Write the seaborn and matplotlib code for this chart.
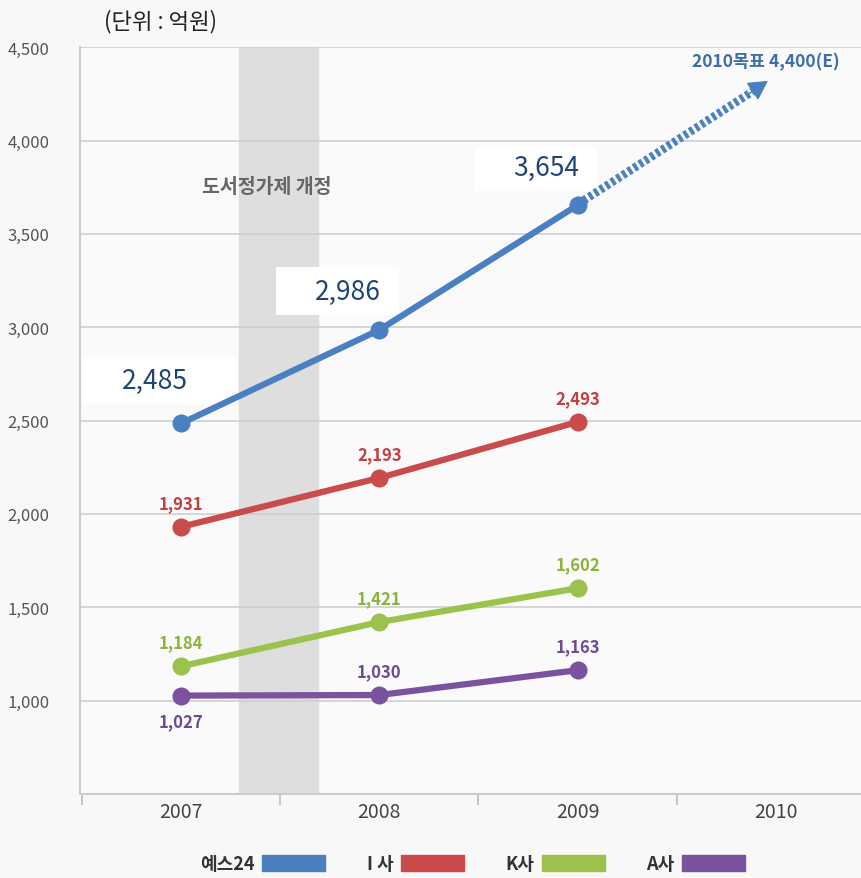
import numpy as np
import pandas as pd
import matplotlib.pyplot as plt
import matplotlib.patches as mpatches
import seaborn as sns

# ---------------------------------------------------------------------------
# data
# ---------------------------------------------------------------------------
years = ["2007", "2008", "2009", "2010"]
yes24 = [2485, 2986, 3654]
i_sa = [1931, 2193, 2493]
k_sa = [1184, 1421, 1602]
a_sa = [1027, 1030, 1163]
target_2010 = 4400

series_names = ["예스24", "I 사", "K사", "A사"]
colors = ["#4a7fc1", "#c94b4b", "#9bc24c", "#7b52a0"]
label_colors = ["#1f4478", "#c0413f", "#8cb33a", "#6e4a94"]

sns.set_theme(style="white")
plt.rcParams["font.family"] = ["Noto Sans CJK KR", "DejaVu Sans"]

df = pd.DataFrame({
    "x": list(range(3)) * 4,
    "value": yes24 + i_sa + k_sa + a_sa,
    "series": sum([[n] * 3 for n in series_names], []),
})

fig = plt.figure(figsize=(8.61, 8.79), dpi=100)
fig.patch.set_facecolor("#f8f8f8")
ax = fig.add_axes([0.093, 0.0956, 0.907, 0.8495])
ax.set_facecolor("#fafafa")

ax.set_xlim(-0.51, 3.43)
ax.set_ylim(500, 4500)

# grey band for book price law change
ax.axvspan(0.29, 0.69, color="#dedede", zorder=0)

# horizontal grid
for v in range(1000, 4501, 500):
    ax.axhline(v, color="#cfcfcf", lw=1.2, zorder=0.5)

sns.lineplot(data=df, x="x", y="value", hue="series", hue_order=series_names,
             palette=colors, marker="o", markersize=13, markeredgewidth=0,
             linewidth=4.5, legend=False, ax=ax, zorder=3)

# striped target arrow (2009 -> 2010 goal)
tip = (2.96, 4320)
ax.plot([2.03, 2.90], [yes24[2] + 25, 4275], color=colors[0], lw=6,
        linestyle=(0, (0.45, 0.35)), dash_capstyle="butt", zorder=2)
ax.annotate("", xy=tip, xytext=(2.86, 4248),
            arrowprops=dict(arrowstyle="-|>,head_length=1.0,head_width=0.55",
                            color=colors[0], lw=1, shrinkA=0, shrinkB=0),
            zorder=2)
ax.text(3.32, 4425, f"2010목표 {target_2010:,}(E)", color="#3d6ea8",
        fontsize=12.5, fontweight="bold", ha="right", va="center")

# big labels for 예스24 on white boxes (boxes sit under the line)
boxes = [(-0.50, 0.28, 102, 354), (-0.52, 0.10, 78, 335), (-0.52, 0.10, 74, 310)]
texts = [(-0.13, 230), (-0.16, 206), (-0.16, 203)]
for i, v in enumerate(yes24):
    x0, x1, y0, y1 = boxes[i]
    ax.add_patch(mpatches.Rectangle((i + x0, v + y0), x1 - x0, y1 - y0,
                                    facecolor="white", edgecolor="none",
                                    zorder=1))
    dx, dy = texts[i]
    ax.text(i + dx, v + dy, f"{v:,}", color=label_colors[0], fontsize=19,
            ha="center", va="center", zorder=5)

# small labels
for vals, col, below in [(i_sa, label_colors[1], [False] * 3),
                         (k_sa, label_colors[2], [False] * 3),
                         (a_sa, label_colors[3], [True, False, False])]:
    for i, v in enumerate(vals):
        off = -135 if below[i] else 128
        ax.text(i, v + off, f"{v:,}", color=col, fontsize=12,
                fontweight="bold", ha="center", va="center")

ax.text(0.43, 3755, "도서정가제 개정", color="#666666", fontsize=14,
        fontweight="bold", ha="center", va="center")

fig.text(0.186, 0.976, "(단위 : 억원)", fontsize=16, color="#222222",
         ha="center", va="center")

# axes styling
ax.set_xticks(range(4))
ax.set_xticklabels(years, fontsize=14, color="#444444")
ax.set_xticks([-0.5, 0.5, 1.5, 2.5], minor=True)
ax.tick_params(axis="x", which="major", length=0, pad=5)
ax.tick_params(axis="x", which="minor", length=8, color="#bbbbbb", width=1.2,
               bottom=True)
ax.set_yticks(range(1000, 4501, 500))
ax.set_yticklabels([f"{v:,}" for v in range(1000, 4501, 500)], fontsize=12,
                   color="#555555")
ax.tick_params(axis="y", length=0, pad=22)
ax.set_xlabel("")
ax.set_ylabel("")
for s in ["top", "right"]:
    ax.spines[s].set_visible(False)
ax.spines["left"].set_color("#cccccc")
ax.spines["left"].set_linewidth(1.5)
ax.spines["bottom"].set_color("#cccccc")
ax.spines["bottom"].set_linewidth(1.5)

handles = [mpatches.Patch(color=c, label=n) for c, n in zip(colors, series_names)]
leg = fig.legend(handles=handles, loc="center", bbox_to_anchor=(0.549, 0.016),
                 ncol=4, frameon=False, markerfirst=False, handlelength=3.5,
                 handleheight=1.0, columnspacing=2.3, handletextpad=0.4,
                 prop=dict(size=13, weight="bold"))
for t in leg.get_texts():
    t.set_color("#333333")

fig.savefig("out.png", dpi=100, facecolor=fig.get_facecolor())
